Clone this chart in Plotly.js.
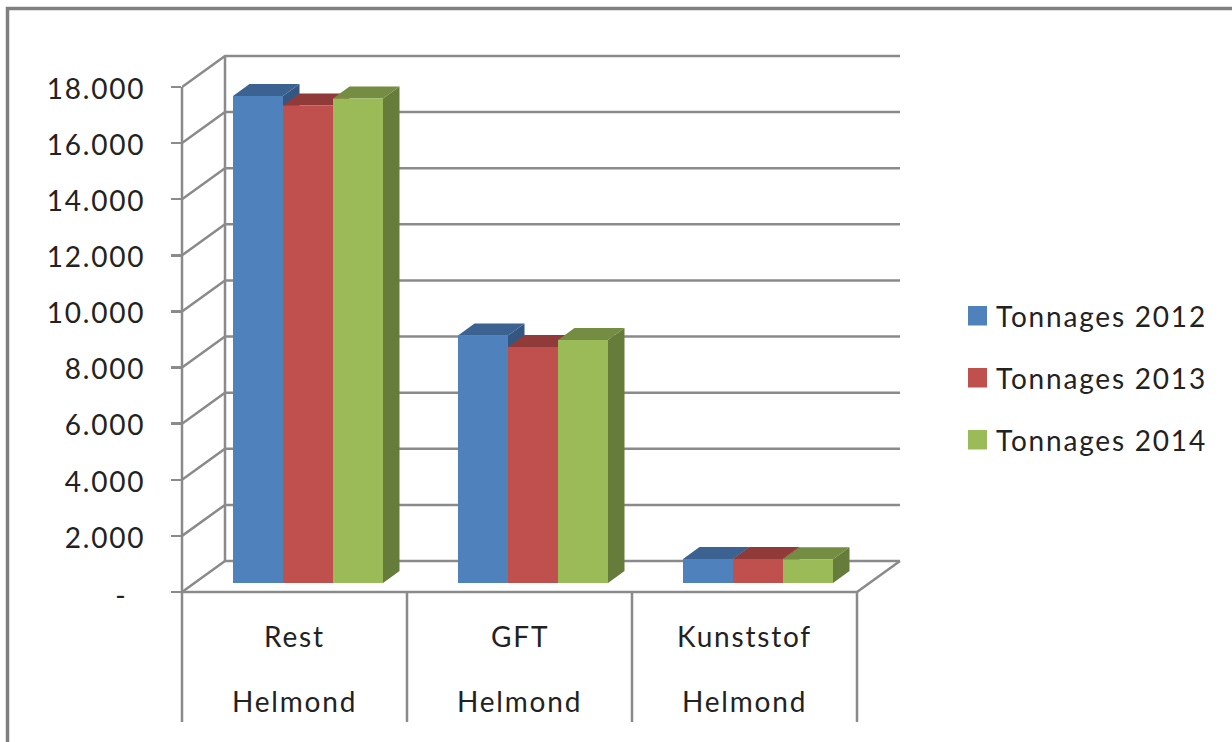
<!DOCTYPE html>
<html><head><meta charset="utf-8">
<script src="https://cdn.plot.ly/plotly-3.0.1.min.js"></script>
<style>html,body{margin:0;padding:0;background:#fff}#c{width:1232px;height:742px}
svg text{letter-spacing:1.8px}</style>
</head><body><div id="c"></div>
<script>
const categories = ["Rest", "GFT", "Kunststof"];
const groupLabel = "Helmond";
const seriesNames = ["Tonnages 2012", "Tonnages 2013", "Tonnages 2014"];
const values2012 = [17360, 8820, 855];
const values2013 = [17020, 8410, 855];
const values2014 = [17270, 8660, 845];
const tickValues = [0, 2000, 4000, 6000, 8000, 10000, 12000, 14000, 16000, 18000];
const tickLabels = ["-\u00a0\u00a0", "2.000", "4.000", "6.000", "8.000", "10.000", "12.000", "14.000", "16.000", "18.000"];
const frontColors = ["#4f81bd", "#c0504d", "#9bbb59"];
const topColors = ["#3b6291", "#903b39", "#748d42"];
const sideColors = ["#345782", "#80322f", "#667c3a"];

// Pixel geometry of the pseudo-3D projection
const W = 1232, H = 742;
const M = {l: 182, r: 322, t: 45, b: 12};
const plotW = W - M.l - M.r, plotH = H - M.t - M.b;
const pxPerCat = 225, pxPerVal = 505 / 18000;
const xRange = [0, plotW / pxPerCat];
const yRange = [-(730 - 592) / pxPerVal, (592 - 45) / pxPerVal];
const wallDX = 43 / pxPerCat, wallDY = 31 / pxPerVal;
const barDX = 16.5 / pxPerCat, barDY = 12 / pxPerVal;
const barBase = 9 / pxPerVal, barW = 50 / pxPerCat;
const barStart = 51 / pxPerCat;
const dropY = -130 / pxPerVal;
const gridColor = "#8a8a8a", textColor = "#222222";
const lineW = 2.5;
const fontFam = "Lato, Carlito, sans-serif";
const px = x => (x - M.l) / plotW, py = y => (H - M.b - y) / plotH;

const seriesValues = [values2012, values2013, values2014];
const traces = [];

// grid: side wall + back wall
const gx = [], gy = [];
tickValues.forEach(v => {
  gx.push(0, wallDX, categories.length + wallDX, null);
  gy.push(v, v + wallDY, v + wallDY, null);
});
gx.push(wallDX, wallDX, null, 0, categories.length, categories.length + wallDX, null);
gy.push(wallDY, 18000 + wallDY, null, 0, 0, wallDY, null);
for (let i = 1; i <= categories.length; i++) { gx.push(i, i, null); gy.push(0, dropY, null); }
traces.push({type: "scatter", mode: "lines", x: gx, y: gy, showlegend: false, hoverinfo: "skip", cliponaxis: false,
  line: {color: gridColor, width: lineW}});

// 3D faces, series by series from back to front
seriesNames.forEach((name, s) => {
  const sx = [], sy = [], tx = [], ty = [];
  categories.forEach((c, i) => {
    const l = i + barStart + s * barW, r = l + barW, top = seriesValues[s][i] + barBase;
    sx.push(r, r + barDX, r + barDX, r, r, null);
    sy.push(barBase, barBase + barDY, top + barDY, top, barBase, null);
    tx.push(l, r, r + barDX, l + barDX, l, null);
    ty.push(top, top, top + barDY, top + barDY, top, null);
  });
  traces.push({type: "scatter", mode: "lines", x: sx, y: sy, fill: "toself", fillcolor: sideColors[s],
    line: {width: 0, color: sideColors[s]}, showlegend: false, hoverinfo: "skip"});
  traces.push({type: "scatter", mode: "lines", x: tx, y: ty, fill: "toself", fillcolor: topColors[s],
    line: {width: 0, color: topColors[s]}, showlegend: false, hoverinfo: "skip"});
});

// front faces on an overlaid axis pair so they sit above the faces
seriesNames.forEach((name, s) => {
  traces.push({type: "bar", name: name, xaxis: "x2", yaxis: "y2",
    x: categories.map((c, i) => i + barStart + (s + 0.5) * barW),
    y: seriesValues[s], base: barBase, width: barW,
    marker: {color: frontColors[s], line: {width: 0}}, showlegend: false});
});

const annotations = [], shapes = [];
categories.forEach((c, i) => {
  [[c, 635.5], [groupLabel, 701]].forEach(([t, yp]) => annotations.push({
    text: t, xref: "x", yref: "paper", x: i + 0.5, y: py(yp), showarrow: false,
    xanchor: "center", yanchor: "middle", font: {family: fontFam, size: 28, color: textColor}}));
});
const legendY = [316, 378, 440];
seriesNames.forEach((name, s) => {
  annotations.push({text: name, xref: "paper", yref: "paper", x: px(994), y: py(legendY[s]), showarrow: false,
    xanchor: "left", yanchor: "middle", font: {family: fontFam, size: 28, color: textColor}});
  shapes.push({type: "rect", xref: "paper", yref: "paper", x0: px(968), x1: px(987),
    y0: py(legendY[s] - 10), y1: py(legendY[s] + 9.5), fillcolor: frontColors[s], line: {width: 0}, layer: "above"});
});
shapes.push({type: "rect", xref: "paper", yref: "paper", x0: px(7.5), x1: px(1300), y0: py(8.5), y1: py(800),
  line: {color: "#808080", width: 3.5}, fillcolor: "rgba(0,0,0,0)"});
// front value axis, drawn unclipped on the left plot edge
shapes.push({type: "line", xref: "paper", yref: "y", x0: 0, x1: 0, y0: dropY, y1: 18000,
  line: {color: gridColor, width: lineW}});

Plotly.newPlot("c", traces, {
  width: W, height: H, margin: M, paper_bgcolor: "#fff", plot_bgcolor: "#fff",
  showlegend: false, barmode: "overlay", shapes, annotations,
  font: {family: fontFam, color: textColor},
  xaxis: {range: xRange, visible: false, fixedrange: true},
  yaxis: {range: yRange, showgrid: false, zeroline: false, showline: false, fixedrange: true,
    tickmode: "array", tickvals: tickValues, ticktext: tickLabels,
    ticks: "outside", ticklen: 10, tickwidth: lineW, tickcolor: gridColor,
    ticklabelstandoff: 20, tickfont: {family: fontFam, size: 28, color: textColor}},
  xaxis2: {range: xRange, overlaying: "x", visible: false, fixedrange: true},
  yaxis2: {range: yRange, overlaying: "y", visible: false, fixedrange: true}
}, {displayModeBar: false, staticPlot: true}).then(() => {
  document.querySelectorAll(".ytick text").forEach(t => t.setAttribute("dy", t.textContent.startsWith("-") ? "4" : "2"));
});
</script></body></html>
